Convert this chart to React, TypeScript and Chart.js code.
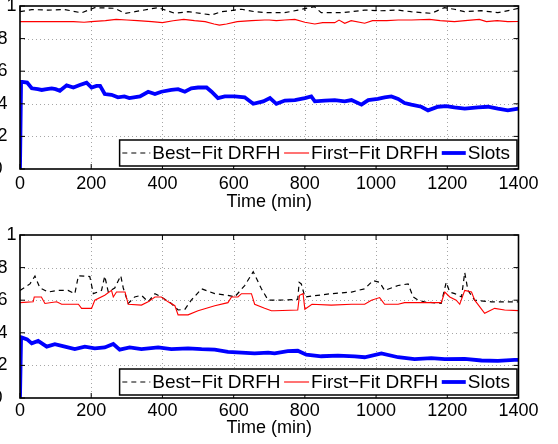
import React, { useEffect, useRef } from 'react';
import { Chart, registerables } from 'chart.js';

Chart.register(...registerables);

const FONT = '"Liberation Sans", Arial, Helvetica, sans-serif';

const xTicks = [0, 200, 400, 600, 800, 1000, 1200, 1400];
const yTicks = [0, 0.2, 0.4, 0.6, 0.8, 1];
const xTitle = 'Time (min)';
const seriesLabels = ['Best\u2212Fit DRFH', 'First\u2212Fit DRFH', 'Slots'];
const seriesColors = ['#000000', '#ff0000', '#0000ff'];

// [time (min), value]
const topBestFit: [number, number][] = [
  [0, 0.965], [33, 0.978], [80, 0.975], [126, 0.978], [173, 0.958], [210, 0.99], [266, 0.986],
  [295, 0.955], [323, 0.965], [360, 0.98], [388, 0.99], [435, 0.955], [472, 0.965], [538, 0.945],
  [566, 0.965], [622, 0.98], [659, 0.965], [697, 0.959], [743, 0.959], [781, 0.975], [827, 0.996],
  [846, 0.959], [902, 0.959], [930, 0.965], [968, 0.975], [1014, 0.971], [1061, 0.975], [1098, 0.965],
  [1155, 0.955], [1192, 0.99], [1220, 0.98], [1248, 0.965], [1295, 0.971], [1342, 0.959], [1379, 0.975],
  [1400, 0.986],
];
const topFirstFit: [number, number][] = [
  [0, 0.904], [20, 0.904], [50, 0.905], [100, 0.904], [150, 0.904], [180, 0.9], [200, 0.904],
  [240, 0.91], [270, 0.918], [300, 0.914], [330, 0.91], [370, 0.904], [400, 0.898], [430, 0.91],
  [460, 0.918], [490, 0.91], [520, 0.904], [545, 0.89], [560, 0.883], [580, 0.89], [610, 0.904],
  [650, 0.91], [687, 0.914], [700, 0.914], [720, 0.91], [744, 0.914], [772, 0.918], [800, 0.9],
  [828, 0.89], [850, 0.898], [884, 0.898], [896, 0.914], [912, 0.894], [930, 0.91], [968, 0.894],
  [990, 0.91], [1030, 0.91], [1062, 0.914], [1100, 0.914], [1150, 0.918], [1180, 0.91], [1220, 0.904],
  [1250, 0.91], [1290, 0.918], [1310, 0.904], [1340, 0.91], [1370, 0.904], [1400, 0.905],
];
const topSlots: [number, number][] = [
  [0, 0], [3, 0.535], [6, 0.535], [20, 0.53], [33, 0.495], [50, 0.49], [61, 0.485], [75, 0.49],
  [89, 0.495], [100, 0.49], [112, 0.48], [131, 0.513], [150, 0.5], [168, 0.515], [187, 0.53],
  [201, 0.5], [215, 0.51], [225, 0.51], [238, 0.46], [257, 0.455], [275, 0.44], [293, 0.445],
  [307, 0.435], [337, 0.445], [360, 0.474], [379, 0.46], [397, 0.474], [425, 0.485], [444, 0.49],
  [463, 0.474], [481, 0.495], [500, 0.5], [524, 0.5], [538, 0.474], [556, 0.435], [575, 0.445],
  [603, 0.445], [631, 0.44], [655, 0.4], [683, 0.415], [702, 0.435], [720, 0.4], [744, 0.42],
  [772, 0.423], [800, 0.435], [818, 0.445], [828, 0.415], [856, 0.42], [884, 0.423], [912, 0.415],
  [931, 0.423], [959, 0.395], [978, 0.423], [1005, 0.43], [1024, 0.44], [1043, 0.445], [1062, 0.43],
  [1080, 0.405], [1099, 0.395], [1127, 0.382], [1146, 0.36], [1174, 0.382], [1197, 0.386],
  [1220, 0.378], [1249, 0.37], [1286, 0.378], [1314, 0.382], [1342, 0.37], [1370, 0.36], [1400, 0.37],
];

const bottomBestFit: [number, number][] = [
  [0, 0.66], [28, 0.7], [42, 0.748], [56, 0.675], [79, 0.65], [107, 0.66], [135, 0.66], [154, 0.64],
  [164, 0.75], [182, 0.748], [196, 0.745], [206, 0.64], [229, 0.66], [238, 0.748], [248, 0.65],
  [266, 0.675], [283, 0.75], [290, 0.675], [304, 0.58], [322, 0.62], [341, 0.63], [360, 0.59],
  [379, 0.64], [397, 0.62], [425, 0.58], [444, 0.54], [463, 0.544], [481, 0.6], [510, 0.67],
  [547, 0.64], [584, 0.63], [603, 0.62], [631, 0.69], [655, 0.775], [678, 0.67], [697, 0.6],
  [725, 0.6], [780, 0.605], [784, 0.71], [790, 0.7], [800, 0.62], [874, 0.64], [931, 0.65],
  [968, 0.67], [991, 0.72], [1010, 0.71], [1024, 0.66], [1062, 0.69], [1090, 0.7], [1104, 0.62],
  [1118, 0.6], [1136, 0.59], [1183, 0.58], [1197, 0.71], [1207, 0.65], [1221, 0.64], [1240, 0.62],
  [1249, 0.77], [1258, 0.66], [1277, 0.6], [1324, 0.59], [1361, 0.59], [1400, 0.59],
];
const bottomFirstFit: [number, number][] = [
  [0, 0.585], [37, 0.59], [40, 0.62], [60, 0.62], [70, 0.58], [103, 0.59], [117, 0.575], [164, 0.575],
  [173, 0.55], [201, 0.55], [210, 0.6], [238, 0.63], [257, 0.66], [262, 0.62], [271, 0.65], [295, 0.65],
  [304, 0.575], [341, 0.57], [360, 0.59], [379, 0.62], [397, 0.62], [416, 0.59], [435, 0.566],
  [444, 0.51], [472, 0.51], [500, 0.535], [547, 0.566], [584, 0.585], [594, 0.62], [612, 0.62],
  [622, 0.64], [650, 0.64], [659, 0.575], [687, 0.55], [706, 0.535], [715, 0.535], [780, 0.54],
  [785, 0.63], [795, 0.64], [800, 0.545], [820, 0.575], [874, 0.57], [931, 0.575], [968, 0.575],
  [987, 0.6], [1010, 0.616], [1024, 0.575], [1062, 0.575], [1080, 0.585], [1136, 0.585], [1183, 0.585],
  [1193, 0.65], [1207, 0.62], [1225, 0.6], [1235, 0.575], [1249, 0.66], [1268, 0.65], [1277, 0.6],
  [1305, 0.52], [1333, 0.55], [1361, 0.54], [1400, 0.536],
];
const bottomSlots: [number, number][] = [
  [0, 0], [3, 0.372], [6, 0.37], [20, 0.36], [33, 0.335], [51, 0.35], [75, 0.315], [98, 0.33],
  [126, 0.315], [154, 0.3], [182, 0.315], [210, 0.305], [238, 0.31], [262, 0.331], [280, 0.297],
  [308, 0.31], [341, 0.3], [388, 0.31], [425, 0.3], [472, 0.305], [510, 0.3], [547, 0.297],
  [584, 0.283], [622, 0.278], [659, 0.274], [697, 0.278], [715, 0.274], [752, 0.287], [780, 0.29],
  [804, 0.266], [846, 0.256], [893, 0.26], [940, 0.256], [968, 0.25], [1015, 0.274], [1062, 0.25],
  [1108, 0.238], [1155, 0.244], [1193, 0.238], [1249, 0.24], [1296, 0.23], [1342, 0.228],
  [1389, 0.234], [1400, 0.234],
];

const toPoints = (arr: [number, number][]) => arr.map(([x, y]) => ({ x, y }));

const matlabAxes = {
  id: 'matlabAxes',
  beforeDatasetsDraw(chart: any) {
    const { ctx, chartArea } = chart;
    const { left, right, top, bottom } = chartArea;
    const xs = chart.scales.x;
    const ys = chart.scales.y;
    ctx.save();
    ctx.strokeStyle = '#a6a6a6';
    ctx.lineWidth = 1;
    ctx.setLineDash([1, 3]);
    xTicks.slice(1, -1).forEach((v) => {
      const px = Math.round(xs.getPixelForValue(v)) + 0.5;
      ctx.beginPath();
      ctx.moveTo(px, top);
      ctx.lineTo(px, bottom);
      ctx.stroke();
    });
    yTicks.slice(1, -1).forEach((v) => {
      const py = Math.round(ys.getPixelForValue(v)) + 0.5;
      ctx.beginPath();
      ctx.moveTo(left, py);
      ctx.lineTo(right, py);
      ctx.stroke();
    });
    ctx.restore();
  },
  afterDatasetsDraw(chart: any) {
    const { ctx, chartArea } = chart;
    const { left, right, top, bottom } = chartArea;
    const xs = chart.scales.x;
    const ys = chart.scales.y;
    ctx.save();
    ctx.strokeStyle = '#000';
    ctx.setLineDash([]);
    ctx.lineWidth = 1;
    const tl = 5;
    xTicks.forEach((v) => {
      const px = xs.getPixelForValue(v);
      ctx.beginPath();
      ctx.moveTo(px, bottom);
      ctx.lineTo(px, bottom - tl);
      ctx.moveTo(px, top);
      ctx.lineTo(px, top + tl);
      ctx.stroke();
    });
    yTicks.forEach((v) => {
      const py = ys.getPixelForValue(v);
      ctx.beginPath();
      ctx.moveTo(left, py);
      ctx.lineTo(left + tl, py);
      ctx.moveTo(right, py);
      ctx.lineTo(right - tl, py);
      ctx.stroke();
    });
    ctx.lineWidth = 1.6;
    ctx.strokeRect(left, top, right - left, bottom - top);
    ctx.restore();
  },
};

const boxLegend = {
  id: 'boxLegend',
  afterDraw(chart: any) {
    const { ctx, chartArea } = chart;
    const datasets = chart.data.datasets;
    ctx.save();
    ctx.font = `19px ${FONT}`;
    const sampleW = [28, 25, 24];
    const padL = 2.7;
    const padR = 7;
    const gapSampleText = 2;
    const gapTextSample = 3.5;
    const widths = datasets.map((d: any) => ctx.measureText(d.label).width);
    let W = padL + padR;
    datasets.forEach((_: any, i: number) => {
      W += sampleW[i] + gapSampleText + widths[i];
      if (i > 0) W += gapTextSample;
    });
    const H = 26;
    const bx = chartArea.right - 1.5 - W;
    const by = chartArea.bottom - 3 - H;
    ctx.fillStyle = '#fff';
    ctx.fillRect(bx, by, W, H);
    ctx.strokeStyle = '#000';
    ctx.lineWidth = 1.5;
    ctx.setLineDash([]);
    ctx.strokeRect(bx, by, W, H);
    const cy = by + H / 2;
    let x = bx + padL;
    datasets.forEach((d: any, i: number) => {
      if (i > 0) x += gapTextSample;
      ctx.save();
      ctx.strokeStyle = d.borderColor;
      ctx.lineWidth = d.borderWidth;
      ctx.setLineDash(d.borderDash || []);
      ctx.beginPath();
      ctx.moveTo(x, cy);
      ctx.lineTo(x + sampleW[i], cy);
      ctx.stroke();
      ctx.restore();
      x += sampleW[i] + gapSampleText;
      ctx.fillStyle = '#000';
      ctx.textBaseline = 'middle';
      ctx.textAlign = 'left';
      ctx.fillText(d.label, x, cy + 1);
      x += widths[i];
    });
    ctx.restore();
  },
};

function makeConfig(
  series: [number, number][][],
  padTop: number,
  scaleH: number,
  tickPad: number,
  titlePadB: number
): any {
  const dashes = [[5, 4], [], []];
  const widths = [1.2, 1.1, 3.8];
  const orders = [3, 2, 1];
  return {
    type: 'line',
    data: {
      datasets: series.map((s, i) => ({
        label: seriesLabels[i],
        data: toPoints(s),
        borderColor: seriesColors[i],
        backgroundColor: seriesColors[i],
        borderWidth: widths[i],
        borderDash: dashes[i],
        pointRadius: 0,
        tension: 0,
        fill: false,
        order: orders[i],
      })),
    },
    options: {
      animation: false,
      responsive: false,
      devicePixelRatio: 1,
      events: [],
      layout: { padding: { top: padTop, right: 39.5, left: 0, bottom: 0 } },
      plugins: { legend: { display: false }, tooltip: { enabled: false }, title: { display: false } },
      scales: {
        x: {
          type: 'linear',
          min: 0,
          max: 1400,
          afterBuildTicks: (s: any) => {
            s.ticks = xTicks.map((v) => ({ value: v }));
          },
          ticks: {
            autoSkip: false,
            maxRotation: 0,
            color: '#000',
            padding: tickPad,
            font: { family: FONT, size: 18 },
            callback: (v: any) => String(v),
          },
          grid: { display: false, drawTicks: false },
          border: { display: false },
          title: {
            display: true,
            text: xTitle,
            color: '#000',
            font: { family: FONT, size: 18 },
            padding: { top: 0, bottom: titlePadB },
          },
          afterFit: (s: any) => {
            s.height = scaleH;
            s.paddingLeft = 0;
            s.paddingRight = 0;
          },
        },
        y: {
          type: 'linear',
          min: 0,
          max: 1,
          afterBuildTicks: (s: any) => {
            s.ticks = yTicks.map((v) => ({ value: v }));
          },
          ticks: {
            autoSkip: false,
            color: '#000',
            padding: 3.4,
            font: { family: FONT, size: 18 },
            callback: (v: any) => {
              const r = Math.round(v * 10) / 10;
              if (r === 1) return '1';
              if (r === 0) return '0\u2002 ';
              return r.toFixed(1) + '\u2002';
            },
          },
          grid: { display: false, drawTicks: false },
          border: { display: false },
          afterFit: (s: any) => {
            s.width = 20;
            s.paddingTop = 0;
            s.paddingBottom = 0;
          },
        },
      },
    },
    plugins: [matlabAxes, boxLegend],
  };
}

export default function App() {
  const topRef = useRef<HTMLCanvasElement | null>(null);
  const bottomRef = useRef<HTMLCanvasElement | null>(null);

  useEffect(() => {
    const c1 = new Chart(
      topRef.current as HTMLCanvasElement,
      makeConfig([topBestFit, topFirstFit, topSlots], 6, 53, 4, 9.5)
    );
    const c2 = new Chart(
      bottomRef.current as HTMLCanvasElement,
      makeConfig([bottomBestFit, bottomFirstFit, bottomSlots], 13, 46, 2, 5.3)
    );
    return () => {
      c1.destroy();
      c2.destroy();
    };
  }, []);

  return (
    <div
      style={{
        position: 'absolute',
        left: 0,
        top: 0,
        width: 558,
        height: 444,
        overflow: 'hidden',
        background: '#fff',
      }}
    >
      <canvas
        ref={topRef}
        width={558}
        height={222}
        style={{ position: 'absolute', left: 0, top: 0, width: 558, height: 222, display: 'block' }}
      />
      <canvas
        ref={bottomRef}
        width={558}
        height={222}
        style={{ position: 'absolute', left: 0, top: 222, width: 558, height: 222, display: 'block' }}
      />
    </div>
  );
}
